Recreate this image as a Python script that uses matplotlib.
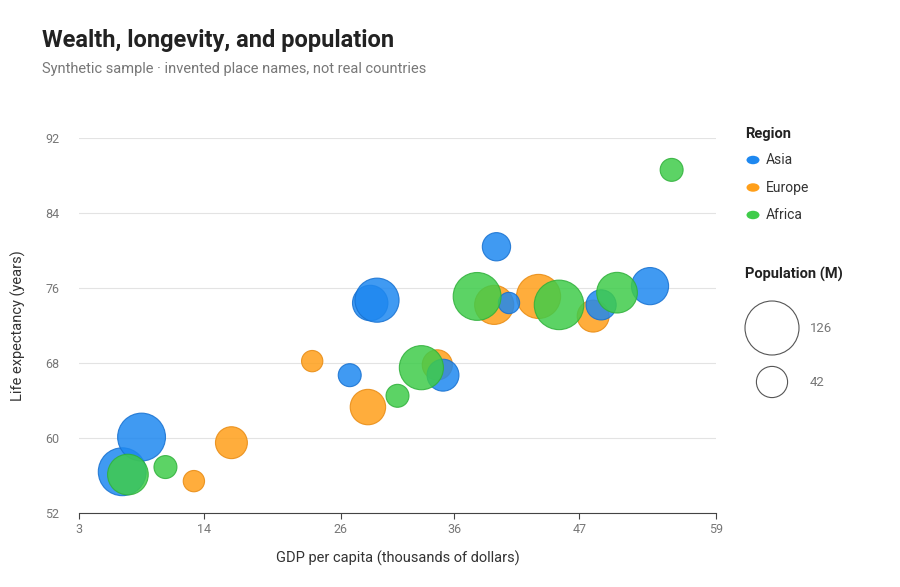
import numpy as np
import matplotlib.pyplot as plt
from matplotlib.patches import Circle

plt.rcParams['font.family'] = ['Roboto', 'DejaVu Sans']

# data
regions = ['Asia', 'Europe', 'Africa']
colors = {'Asia': '#1e88f0', 'Europe': '#ff9f1a', 'Africa': '#3fcc4a'}
edges = {'Asia': '#1670d0', 'Europe': '#e88a10', 'Africa': '#2fb03a'}

asia_gdp = [6.8, 8.5, 26.8, 28.6, 29.2, 39.7, 40.8, 35.0, 48.9, 53.2]
asia_life = [56.4, 60.1, 66.7, 74.4, 74.7, 80.4, 74.4, 66.7, 74.2, 76.2]
asia_pop = [126, 126, 29, 69, 107, 44, 25, 56, 50, 76]

europe_gdp = [23.5, 16.4, 13.1, 28.4, 34.5, 39.5, 43.4, 48.2]
europe_life = [68.2, 59.5, 55.4, 63.3, 67.8, 74.2, 75.1, 73.0]
europe_pop = [25, 56, 25, 69, 50, 84, 107, 56]

africa_gdp = [55.1, 10.6, 7.3, 31.0, 33.1, 38.0, 45.2, 50.3]
africa_life = [88.6, 56.9, 56.1, 64.5, 67.5, 75.1, 74.2, 75.5]
africa_pop = [29, 29, 91, 29, 107, 126, 135, 91]

series = {
    'Asia': (asia_gdp, asia_life, asia_pop),
    'Europe': (europe_gdp, europe_life, europe_pop),
    'Africa': (africa_gdp, africa_life, africa_pop),
}
x_ticks = [3, 14, 26, 36, 47, 59]
y_ticks = [52, 60, 68, 76, 84, 92]
legend_pops = [126, 42]

def radius_px(p):
    return 27 * np.sqrt(p / 126.0)

def area_pt(p):
    return np.pi * (radius_px(np.asarray(p, float)) * 0.72) ** 2

fig = plt.figure(figsize=(9, 5.87), dpi=100)
ax = fig.add_axes([79/900, 74/587, 637/900, 375/587])

for reg in ['Europe', 'Asia', 'Africa']:
    g, l, p = series[reg]
    ax.scatter(g, l, s=area_pt(p), c=colors[reg], alpha=0.85,
               edgecolors=edges[reg], linewidths=0.8, zorder=3)

ax.set_xlim(3, 59)
ax.set_ylim(52, 92)
ax.set_xticks(x_ticks)
ax.set_yticks(y_ticks)
ax.grid(axis='y', color='#e3e3e3', lw=0.8, zorder=0)
for s in ['top', 'right', 'left']:
    ax.spines[s].set_visible(False)
ax.spines['bottom'].set_color('#444444')
ax.tick_params(axis='y', length=0, labelsize=9, colors='#777777', pad=14)
ax.tick_params(axis='x', length=4, labelsize=9, colors='#777777', color='#444444')
ax.set_xlabel('GDP per capita (thousands of dollars)', fontsize=10.5, color='#333333', labelpad=10)
ax.set_ylabel('Life expectancy (years)', fontsize=10.5, color='#333333', labelpad=14)

fig.text(42/900, 1 - 40/587, 'Wealth, longevity, and population', fontsize=17,
         fontweight='bold', color='#222222', va='center')
fig.text(42/900, 1 - 69/587, 'Synthetic sample · invented place names, not real countries',
         fontsize=10.5, color='#777777', va='center')

# legend: region
fig.text(745/900, 1 - 134/587, 'Region', fontsize=10.5, fontweight='bold', color='#222222', va='center')
for i, reg in enumerate(regions):
    yy = 1 - (160 + i * 27.5) / 587
    fig.patches.append(Circle((753/900, yy), 6.5/900, transform=fig.transFigure,
                              facecolor=colors[reg], edgecolor='none'))
    fig.text(766/900, yy, reg, fontsize=10, color='#333333', va='center')

# legend: population
fig.text(745/900, 1 - 274/587, 'Population (M)', fontsize=10.5, fontweight='bold', color='#222222', va='center')
lax = fig.add_axes([735/900, 287/587 - 130/587 + 0.0, 110/900, 130/587])
lax.set_xlim(735, 845)
lax.set_ylim(417, 287)
lax.set_aspect('equal')
lax.axis('off')
for p, cy in zip(legend_pops, [328, 382]):
    r = radius_px(p)
    lax.add_patch(Circle((772, cy), r, facecolor='none', edgecolor='#555555', lw=0.8))
    lax.text(810, cy, str(p), fontsize=9.5, color='#777777', va='center')
lax.set_position([735/900, 1 - 417/587, 110/900, 130/587])

fig.savefig('out.png', dpi=100)
